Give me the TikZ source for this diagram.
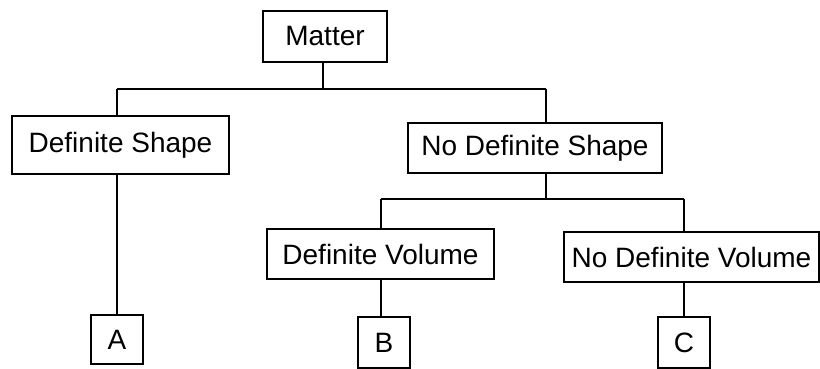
\documentclass[tikz,border=0pt]{standalone}
\usepackage{fontspec}
\setmainfont{Liberation Sans}
\begin{document}
\begin{tikzpicture}[x=1pt,y=-1pt,
  box/.style={draw, line width=1.4pt, inner sep=0pt, font=\fontsize{28}{30}\selectfont},
  conn/.style={line width=1.8pt}]
\useasboundingbox[fill=white] (0,0) rectangle (820,369);
\node[box, minimum width=124pt, minimum height=51pt] (matter) at (325,36.5) {Matter};
\node[box, minimum width=217pt, minimum height=58pt] (ds) at (120.5,145) {Definite Shape};
\node[box, minimum width=254pt, minimum height=50pt] (nds) at (535,148) {No Definite Shape};
\node[box, minimum width=227pt, minimum height=50pt] (dv) at (380.5,254) {Definite Volume};
\node[box, minimum width=255pt, minimum height=50pt] (ndv) at (691.5,257) {No Definite Volume};
\node[box, minimum width=52pt, minimum height=49pt] (a) at (117,339.5) {A};
\node[box, minimum width=52pt, minimum height=51pt] (b) at (384,342.5) {B};
\node[box, minimum width=52pt, minimum height=51pt] (c) at (684,342.5) {C};
% junctions
\coordinate (j1) at (323,89);
\coordinate (j1l) at (117,89);
\coordinate (j1r) at (546,89);
\coordinate (j2) at (546,199);
\coordinate (j2l) at (381,199);
\coordinate (j2r) at (684,199);
\draw[conn] (j1 |- matter.south) -- (j1);
\draw[conn] (j1l) -- (j1r);
\draw[conn] (j1l) -- (j1l |- ds.north);
\draw[conn] (j1l |- ds.south) -- (a.north);
\draw[conn] (j1r) -- (j1r |- nds.north);
\draw[conn] (j2 |- nds.south) -- (j2);
\draw[conn] (j2l) -- (j2r);
\draw[conn] (j2l) -- (j2l |- dv.north);
\draw[conn] (j2l |- dv.south) -- (j2l |- b.north);
\draw[conn] (j2r) -- (j2r |- ndv.north);
\draw[conn] (j2r |- ndv.south) -- (c.north);
\end{tikzpicture}
\end{document}
